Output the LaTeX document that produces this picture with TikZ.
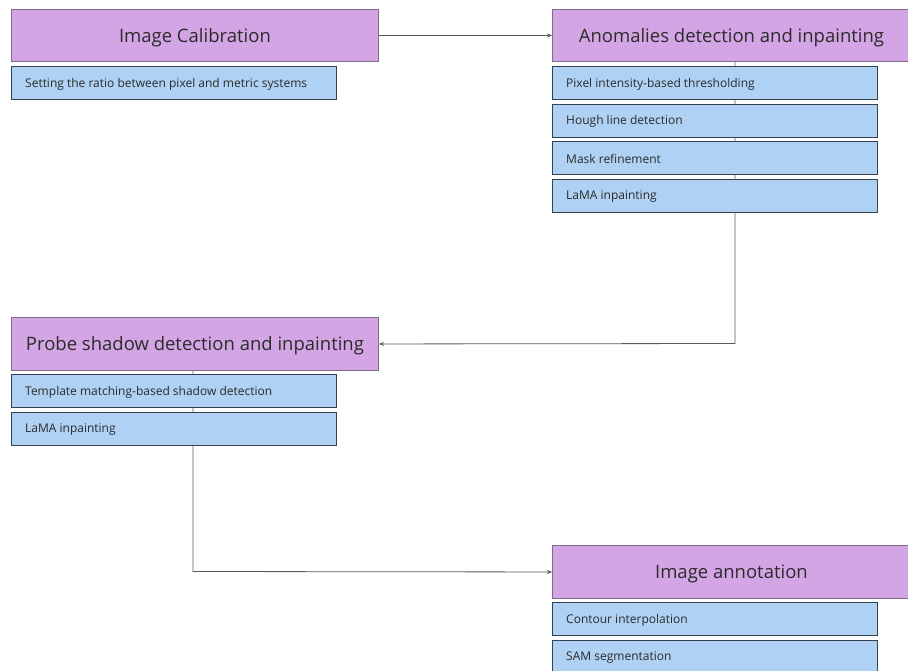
\documentclass[tikz,border=0pt]{standalone}
\usepackage{fontspec}
\setmainfont{Open Sans}
\usetikzlibrary{arrows.meta,backgrounds}
\definecolor{hdrfill}{HTML}{D4A5E5}
\definecolor{hdrdraw}{HTML}{7E6C88}
\definecolor{subfill}{HTML}{AFD1F3}
\definecolor{subdraw}{HTML}{334252}
\definecolor{txt}{HTML}{2B2B2B}
\definecolor{conn}{HTML}{5A5A5A}
\tikzset{
  hdr/.style={draw=hdrdraw, fill=hdrfill, line width=0.9pt, anchor=north west, inner sep=0pt,
     text=txt, font=\fontsize{18.5}{22}\selectfont, align=center, text depth=0pt},
  sub/.style={draw=subdraw, fill=subfill, line width=0.9pt, anchor=north west, inner sep=0pt,
     minimum width=325pt, minimum height=33pt, text=txt, font=\fontsize{12}{14}\selectfont},
  subtxt/.style={anchor=west, inner sep=0pt, text=txt, font=\fontsize{12}{14}\selectfont},
  conline/.style={draw=conn, line width=0.8pt},
  arr/.style={conline, -{Stealth[length=5pt,width=4pt]}}
}
\begin{document}
\begin{tikzpicture}[x=1pt,y=-1pt]
\useasboundingbox (0,0) rectangle (908,670);
% Image Calibration
\node[hdr, minimum width=367pt, minimum height=52pt] (cal) at (11,9) {Image Calibration};
\node[sub] (cal1) at (11,66) {};
\node[subtxt] (cal1t) at (25,84) {Setting the ratio between pixel and metric systems};
% Anomalies
\node[hdr, minimum width=358pt, minimum height=52pt] (ano) at (552,9) {Anomalies detection and inpainting};
\node[sub] (ano1) at (552,66) {};
\node[subtxt] (ano1t) at (566,84) {Pixel intensity-based thresholding};
\node[sub] (ano2) at (552,104) {};
\node[subtxt] (ano2t) at (566,121.5) {Hough line detection};
\node[sub] (ano3) at (552,141) {};
\node[subtxt] (ano3t) at (566,159) {Mask refinement};
\node[sub] (ano4) at (552,179) {};
\node[subtxt] (ano4t) at (566,197) {LaMA inpainting};
% Probe
\node[hdr, minimum width=367pt, minimum height=53pt] (pro) at (11,317) {Probe shadow detection and inpainting};
\node[sub] (pro1) at (11,374) {};
\node[subtxt] (pro1t) at (25,392) {Template matching-based shadow detection};
\node[sub] (pro2) at (11,412) {};
\node[subtxt] (pro2t) at (25,430) {LaMA inpainting};
% Annotation
\node[hdr, minimum width=358pt, minimum height=53pt] (ann) at (552,545) {Image annotation};
\node[sub] (ann1) at (552,602) {};
\node[subtxt] (ann1t) at (566,620) {Contour interpolation};
\node[sub] (ann2) at (552,640) {};
\node[subtxt] (ann2t) at (566,658) {SAM segmentation};
% connectors
\begin{scope}[on background layer]
\draw[arr] (cal.east) -- (ano.west);
\coordinate (c1) at (735,343.5);
\draw[arr] (ano.south -| c1) -- (c1) -- (pro.east);
\coordinate (c2) at (193,571.5);
\draw[arr] (pro.south -| c2) -- (c2) -- (ann.west);
\end{scope}
\end{tikzpicture}
\end{document}
